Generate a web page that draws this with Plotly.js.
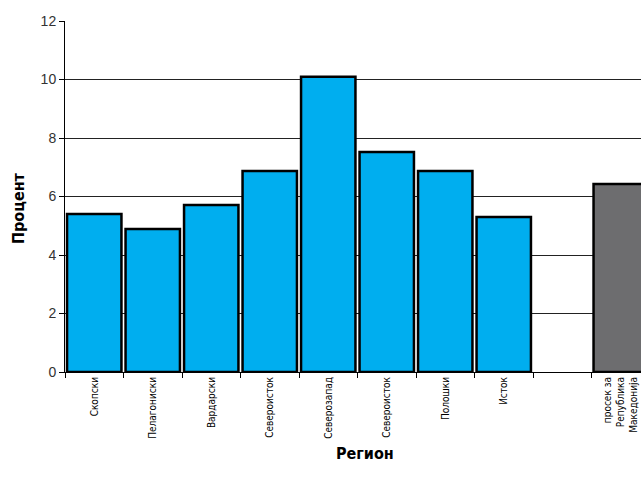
<!DOCTYPE html>
<html>
<head>
<meta charset="utf-8">
<script src="https://cdn.plot.ly/plotly-3.0.1.min.js"></script>
<style>
html, body { margin: 0; padding: 0; overflow: hidden; background: #fff; }
#chart { width: 660px; height: 489px; }
</style>
</head>
<body>
<div id="chart"></div>
<script>
// Data
const regions = ['Скопски', 'Пелагониски', 'Вардарски', 'Североисток', 'Северозапад',
                 'Североисток\u200b', 'Полошки', 'Исток', ' ', 'просек за<br>Република<br>Македонија'];
const percent = [5.40, 4.89, 5.71, 6.87, 10.09, 7.52, 6.87, 5.30, null, 6.43];
const barColors = ['#00aeef', '#00aeef', '#00aeef', '#00aeef', '#00aeef',
                   '#00aeef', '#00aeef', '#00aeef', '#00aeef', '#6d6d6f'];
const yTicks = [0, 2, 4, 6, 8, 10, 12];

const condensed = '"DejaVu Sans Condensed", sans-serif';

const trace = {
  type: 'bar',
  x: regions,
  y: percent,
  marker: { color: barColors, line: { color: '#000', width: 2.5 } },
  hoverinfo: 'x+y'
};

const layout = {
  width: 660,
  height: 489,
  margin: { l: 65, r: 10, t: 21, b: 117 },
  paper_bgcolor: '#fff',
  plot_bgcolor: '#fff',
  bargap: 0.07,
  showlegend: false,
  xaxis: {
    type: 'category',
    tickson: 'boundaries',
    ticks: 'outside',
    ticklen: 5,
    tickcolor: '#000',
    tickwidth: 1,
    tickangle: -90,
    tickfont: { family: condensed, size: 10, color: '#000' },
    showline: true,
    linecolor: '#000',
    linewidth: 1,
    showgrid: false,
    zeroline: false,
    fixedrange: true
  },
  yaxis: {
    range: [0, 12],
    tickvals: yTicks,
    ticks: 'outside',
    ticklen: 5,
    tickcolor: '#000',
    tickfont: { family: 'Liberation Sans, Arial, sans-serif', size: 14, color: '#333' },
    showline: true,
    linecolor: '#000',
    linewidth: 1,
    showgrid: true,
    gridcolor: '#222',
    gridwidth: 1,
    zeroline: false,
    fixedrange: true
  },
  annotations: [
    {
      text: '<b>Регион</b>', xref: 'paper', yref: 'paper',
      x: (365 - 65) / 585, y: -(453 - 372) / 351,
      xanchor: 'center', yanchor: 'middle', showarrow: false,
      font: { family: condensed, size: 16, color: '#000' }
    },
    {
      text: '<b>Процент</b>', xref: 'paper', yref: 'paper',
      x: -(65 - 19) / 585, y: (372 - 208) / 351,
      xanchor: 'center', yanchor: 'middle', textangle: -90, showarrow: false,
      font: { family: condensed, size: 16, color: '#000' }
    }
  ]
};

Plotly.newPlot('chart', [trace], layout, { displayModeBar: false });
</script>
</body>
</html>
